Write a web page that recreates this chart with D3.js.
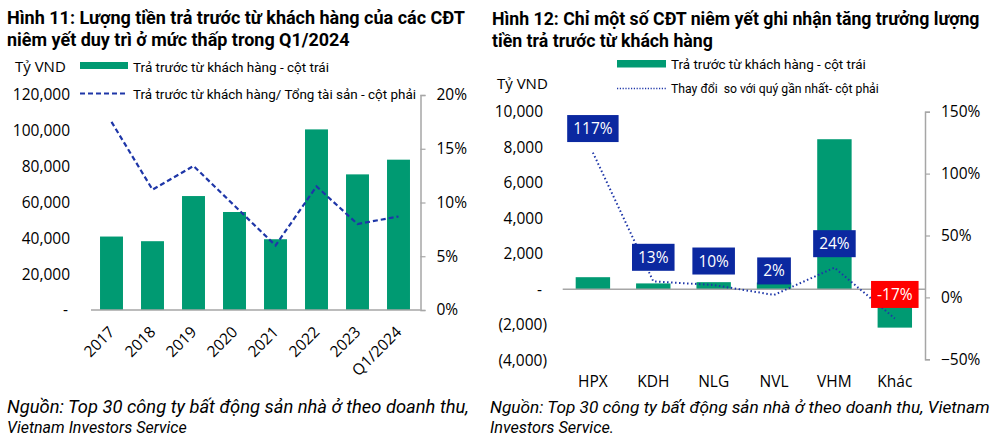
<!DOCTYPE html>
<html><head><meta charset="utf-8">
<script src="https://cdn.jsdelivr.net/npm/d3@7"></script>
<style>
body{margin:0;background:#fff}
svg{display:block}
text{font-family:"Open Sans","Noto Sans",sans-serif;fill:#000}
</style>
</head><body>
<svg id="c" width="1000" height="448"></svg>
<script>
// ---------- Data: Hình 11 ----------
const years = ["2017","2018","2019","2020","2021","2022","2023","Q1/2024"];
const prepay = [41000,38400,63600,54700,39500,100800,75700,83900];
const prepayRatio = [0.175,0.112,0.134,0.097,0.060,0.115,0.080,0.087];
const leftTicks1 = [0,20000,40000,60000,80000,100000,120000];
const rightTicks1 = [0,0.05,0.10,0.15,0.20];

// ---------- Data: Hình 12 ----------
const firms = ["HPX","KDH","NLG","NVL","VHM","Khác"];
const firmPrepay = [680,330,400,380,8450,-2160];
const firmChange = [1.17,0.13,0.10,0.02,0.24,-0.17];
const firmChangeLabels = ["117%","13%","10%","2%","24%","-17%"];
const leftTicks2 = [-4000,-2000,0,2000,4000,6000,8000,10000];
const rightTicks2 = [-0.5,0,0.5,1.0,1.5];

const GREEN = "#009A72", NAVY = "#0B28A0", LINE = "#1E36A8", GRAY = "#A6A6A6";
const svg = d3.select("#c");

// text whose font size is adjusted so its natural width equals the target width
function fitText(g, x, y, str, size, weight, width, style, family) {
  const t = g.append("text").attr("x", x).attr("y", y).text(str)
    .style("font-size", size + "px").style("white-space", "pre");
  if (family) t.style("font-family", family);
  if (weight) t.style("font-weight", weight);
  if (style) t.style("font-style", style);
  if (width) {
    const L = t.node().getComputedTextLength();
    const s = size * width / L;
    t.style("font-size", s.toFixed(2) + "px");
    const L2 = t.node().getComputedTextLength();
    if (Math.abs(L2 - width) > 1) t.attr("textLength", width).attr("lengthAdjust", "spacingAndGlyphs");
  }
  return t;
}
const TF = 'Roboto,"Open Sans",sans-serif';

// ================= Chart 1 =================
{
  const g = svg.append("g");
  fitText(g, 7, 24, "Hình 11: Lượng tiền trả trước từ khách hàng của các CĐT", 17, 700, 458, null, TF);
  fitText(g, 7, 46, "niêm yết duy trì ở mức thấp trong Q1/2024", 17, 700, 343, null, TF);

  // legend
  fitText(g, 15, 72, "Tỷ VND", 15, null, null);
  g.append("rect").attr("x", 80).attr("y", 62).attr("width", 48).attr("height", 7).attr("fill", GREEN);
  fitText(g, 133, 72, "Trả trước từ khách hàng - cột trái", 14.5, null, 196, null, TF);
  g.append("line").attr("x1", 80).attr("x2", 128).attr("y1", 93.5).attr("y2", 93.5)
    .attr("stroke", LINE).attr("stroke-width", 2.2).attr("stroke-dasharray", "5,3");
  fitText(g, 133, 99, "Trả trước từ khách hàng/ Tổng tài sản - cột phải", 14.5, null, 283, null, TF);

  const x = d3.scaleBand().domain(years).range([91, 419]).paddingInner(0.44).paddingOuter(0.22);
  const yL = d3.scaleLinear().domain([0, 120000]).range([310, 95]);
  const yR = d3.scaleLinear().domain([0, 0.20]).range([310, 95]);

  g.selectAll("rect.bar").data(years).join("rect").attr("class", "bar")
    .attr("x", d => x(d)).attr("width", x.bandwidth())
    .attr("y", (d, i) => yL(prepay[i])).attr("height", (d, i) => yL(0) - yL(prepay[i]))
    .attr("fill", GREEN);

  g.append("line").attr("x1", 91).attr("x2", 420.5).attr("y1", yL(0)).attr("y2", yL(0))
    .attr("stroke", GRAY).attr("stroke-width", 1.5);

  const axL = g.append("g").attr("transform", "translate(70,0)")
    .call(d3.axisLeft(yL).tickValues(leftTicks1).tickSize(0).tickPadding(0)
      .tickFormat(d => d === 0 ? "-" : d3.format(",")(d)));
  axL.select(".domain").remove();
  axL.selectAll("text").style("font-size", "15.5px").style("font-family", '"Open Sans",sans-serif').attr("fill", "#000")
    .attr("dx", d => d === 0 ? -2 : 0);

  const axR = g.append("g").attr("transform", "translate(420.5,0)")
    .call(d3.axisRight(yR).tickValues(rightTicks1).tickSize(5).tickPadding(11)
      .tickFormat(d3.format(".0%")));
  axR.select(".domain").attr("stroke", GRAY).attr("stroke-width", 1.5);
  axR.selectAll("line").attr("stroke", GRAY).attr("stroke-width", 1.2);
  axR.selectAll("text").style("font-size", "15.5px").style("font-family", '"Open Sans",sans-serif').attr("fill", "#000");

  g.selectAll("text.xl").data(years).join("text").attr("class", "xl")
    .attr("transform", d => `translate(${x(d) + x.bandwidth() / 2 + 4},333) rotate(-45)`)
    .attr("text-anchor", "end").style("font-size", "15.5px").text(d => d);

  const line = d3.line().x((d, i) => x(years[i]) + x.bandwidth() / 2).y(d => yR(d));
  g.append("path").datum(prepayRatio).attr("d", line).attr("fill", "none")
    .attr("stroke", LINE).attr("stroke-width", 2.2).attr("stroke-dasharray", "5,3");

  fitText(g, 7, 413, "Nguồn: Top 30 công ty bất động sản nhà ở theo doanh thu,", 15, null, 462, "italic", TF);
  fitText(g, 7, 433, "Vietnam Investors Service", 15, null, 180, "italic", TF);
}

// ================= Chart 2 =================
{
  const g = svg.append("g");
  fitText(g, 492, 25, "Hình 12: Chỉ một số CĐT niêm yết ghi nhận tăng trưởng lượng", 17, 700, 488, null, TF);
  fitText(g, 492, 47, "tiền trả trước từ khách hàng", 17, 700, 221, null, TF);

  g.append("rect").attr("x", 617).attr("y", 60).attr("width", 49).attr("height", 7.5).attr("fill", GREEN);
  fitText(g, 671, 68.5, "Trả trước từ khách hàng - cột trái", 14, null, 195, null, TF);
  fitText(g, 497, 89, "Tỷ VND", 15, null, null);
  g.append("line").attr("x1", 617).attr("x2", 666).attr("y1", 88.5).attr("y2", 88.5)
    .attr("stroke", LINE).attr("stroke-width", 1.5).attr("stroke-dasharray", "1.2,1.6");
  fitText(g, 671, 93, "Thay đổi  so với quý gần nhất- cột phải", 12.5, null, 208, null, TF);

  const x = d3.scaleBand().domain(firms).range([562.7, 925]).paddingInner(0.43).paddingOuter(0.215);
  const yL = d3.scaleLinear().domain([-4000, 10000]).range([360.3, 111.7]);
  const yR = d3.scaleLinear().domain([-0.5, 1.5]).range([359.3, 111.7]);

  g.selectAll("rect.bar").data(firms).join("rect").attr("class", "bar")
    .attr("x", d => x(d)).attr("width", x.bandwidth())
    .attr("y", (d, i) => yL(Math.max(0, firmPrepay[i])))
    .attr("height", (d, i) => Math.abs(yL(firmPrepay[i]) - yL(0)))
    .attr("fill", GREEN);

  g.append("line").attr("x1", 562.7).attr("x2", 925).attr("y1", yL(0)).attr("y2", yL(0))
    .attr("stroke", GRAY).attr("stroke-width", 1.5);

  const axL = g.append("g").attr("transform", "translate(543,0)")
    .call(d3.axisLeft(yL).tickValues(leftTicks2).tickSize(0).tickPadding(0)
      .tickFormat(d => d === 0 ? "-" : d < 0 ? "(" + d3.format(",")(-d) + ")" : d3.format(",")(d)));
  axL.select(".domain").remove();
  axL.selectAll("text").style("font-size", "15.5px").style("font-family", '"Open Sans",sans-serif').attr("fill", "#000")
    .attr("dx", d => d === 0 ? -1 : d < 0 ? 4 : 0);

  const axR = g.append("g").attr("transform", "translate(925,0)")
    .call(d3.axisRight(yR).tickValues(rightTicks2).tickSize(5).tickPadding(11)
      .tickFormat(d3.format(".0%")));
  axR.select(".domain").attr("stroke", GRAY).attr("stroke-width", 1.5);
  axR.selectAll("line").attr("stroke", GRAY).attr("stroke-width", 1.2);
  axR.selectAll("text").style("font-size", "15.5px").style("font-family", '"Open Sans",sans-serif').attr("fill", "#000");

  g.selectAll("text.xl").data(firms).join("text").attr("class", "xl")
    .attr("x", d => x(d) + x.bandwidth() / 2).attr("y", 387)
    .attr("text-anchor", "middle").style("font-size", "15.5px").text(d => d);

  const line = d3.line().x((d, i) => x(firms[i]) + x.bandwidth() / 2).y(d => yR(d));
  g.append("path").datum(firmChange).attr("d", line).attr("fill", "none")
    .attr("stroke", LINE).attr("stroke-width", 2).attr("stroke-dasharray", "1.5,2.5");

  firms.forEach((f, i) => {
    const cx = x(f) + x.bandwidth() / 2, cy = yR(firmChange[i]) - 24;
    const lg = g.append("g");
    const r = lg.append("rect");
    const t = lg.append("text").attr("x", cx).attr("y", cy + 5.5).attr("text-anchor", "middle")
      .style("font-size", "15.5px").style("fill", "#fff").text(firmChangeLabels[i]);
    const w = t.node().getComputedTextLength() + 12;
    r.attr("x", cx - w / 2).attr("y", cy - 13.5).attr("width", w).attr("height", 27)
      .attr("fill", firmChange[i] < 0 ? "#FF0000" : NAVY);
  });

  fitText(g, 490, 413, "Nguồn: Top 30 công ty bất động sản nhà ở theo doanh thu, Vietnam", 15, null, 500, "italic", TF);
  fitText(g, 490, 433, "Investors Service.", 15, null, 124, "italic", TF);
}
</script>
</body></html>
